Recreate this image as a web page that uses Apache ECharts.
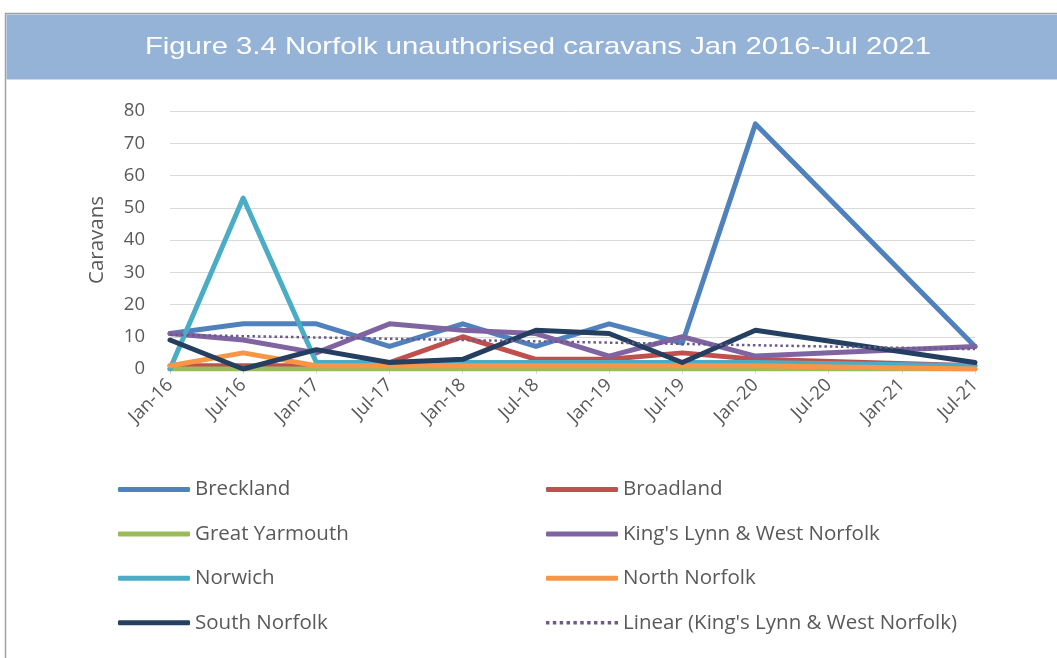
<!DOCTYPE html>
<html>
<head>
<meta charset="utf-8">
<script src="https://cdn.jsdelivr.net/npm/echarts@6/dist/echarts.min.js"></script>
<style>
html,body{margin:0;padding:0;background:#fff;}
#chart{width:1057px;height:658px;}
</style>
</head>
<body>
<div id="chart"></div>
<script>
var categories = ['Jan-16','Jul-16','Jan-17','Jul-17','Jan-18','Jul-18','Jan-19','Jul-19','Jan-20','Jul-20','Jan-21','Jul-21'];
var breckland     = [11, 14, 14, 7, 14, 7, 14, 8, 76, null, null, 7];
var broadland     = [1, 1, 1, 2, 10, 3, 3, 5, 3, null, null, 1];
var greatYarmouth = [0, 0, 0, 0, 0, 0, 0, 0, 0, null, null, 0];
var kingsLynn     = [11, 9, 5, 14, 12, 11, 4, 10, 4, null, null, 7];
var norwich       = [0, 53, 2, 2, 2, 2, 2, 2, 2, null, null, 1];
var northNorfolk  = [1, 5, 1, 1, 1, 1, 1, 1, 1, null, null, 0];
var southNorfolk  = [9, 0, 6, 2, 3, 12, 11, 2, 12, null, null, 2];
var yTicks = {min: 0, max: 80, interval: 10};
var titleText = 'Figure 3.4 Norfolk unauthorised caravans Jan 2016-Jul 2021';
var trendName = "Linear (King's Lynn & West Norfolk)";

// Linear trend (least squares) of King's Lynn & West Norfolk, blanks ignored
function linearTrend(vals) {
  var xs = [], ys = [];
  vals.forEach(function (v, i) { if (v !== null) { xs.push(i); ys.push(v); } });
  var n = xs.length, mx = 0, my = 0;
  for (var i = 0; i < n; i++) { mx += xs[i]; my += ys[i]; }
  mx /= n; my /= n;
  var sxy = 0, sxx = 0;
  for (i = 0; i < n; i++) { sxy += (xs[i] - mx) * (ys[i] - my); sxx += (xs[i] - mx) * (xs[i] - mx); }
  var b = sxy / sxx, a = my - b * mx;
  return vals.map(function (v, i) { return +(a + b * i).toFixed(3); });
}
var kingsLynnTrend = linearTrend(kingsLynn);

var textColor = '#595959';
var font = 'Open Sans';
var dotsIcon = 'path://M0,0h3v3h-3z M6,0h3v3h-3z M12,0h3v3h-3z M18,0h3v3h-3z M24,0h3v3h-3z M30,0h3v3h-3z M36,0h3v3h-3z M42,0h3v3h-3z M48,0h3v3h-3z M54,0h3v3h-3z M60,0h3v3h-3z';

function lineSeries(name, data, color) {
  return {
    name: name, type: 'line', data: data, color: color,
    symbol: 'none', connectNulls: true,
    lineStyle: {width: 5, color: color, join: 'round', cap: 'round'},
    emphasis: {disabled: true}
  };
}

var chart = echarts.init(document.getElementById('chart'));
var legendText = {fontFamily: font, fontSize: 20.5, color: textColor, lineHeight: 20};
chart.setOption({
  animation: false,
  backgroundColor: '#ffffff',
  graphic: [
    {type: 'rect', z: -10, shape: {x: 5.5, y: 13.5, width: 1100, height: 700}, style: {fill: '#ffffff', stroke: '#A0A0A0', lineWidth: 1.5}},
    {type: 'rect', z: -9, shape: {x: 6.5, y: 14.5, width: 1060, height: 65}, style: {fill: '#95B3D7'}},
    {type: 'text', x: 538, y: 47, scaleX: 1.22, style: {text: titleText, fill: '#ffffff', font: '24px "Liberation Sans", Arial, sans-serif', textAlign: 'center', textVerticalAlign: 'middle'}}
  ],
  grid: {left: 170, right: 82, top: 111, bottom: 289, containLabel: false},
  xAxis: {
    type: 'category', data: categories, boundaryGap: false,
    axisLine: {lineStyle: {color: '#D9D9D9', width: 1}},
    axisTick: {show: true, length: 5, lineStyle: {color: '#D9D9D9'}},
    axisLabel: {rotate: 45, interval: 0, margin: 13, color: textColor, fontFamily: font, fontSize: 18.5},
    splitLine: {show: false}
  },
  yAxis: {
    type: 'value', min: yTicks.min, max: yTicks.max, interval: yTicks.interval,
    name: 'Caravans', nameLocation: 'middle', nameGap: 62, nameRotate: 90,
    nameTextStyle: {color: textColor, fontFamily: font, fontSize: 20.5},
    axisLine: {show: false}, axisTick: {show: false},
    axisLabel: {color: textColor, fontFamily: font, fontSize: 18.5, margin: 25},
    splitLine: {lineStyle: {color: '#D9D9D9', width: 1}}
  },
  legend: [
    {left: 113, top: 474, orient: 'vertical', itemWidth: 72, itemHeight: 5, itemGap: 23.4, icon: 'roundRect',
     selectedMode: false, textStyle: legendText,
     data: ['Breckland', 'Great Yarmouth', 'Norwich', 'South Norfolk']},
    {left: 541, top: 474, orient: 'vertical', itemWidth: 72, itemHeight: 5, itemGap: 23.4, icon: 'roundRect',
     selectedMode: false, textStyle: legendText,
     data: ['Broadland', "King's Lynn & West Norfolk", 'North Norfolk', {name: trendName, icon: dotsIcon}]}
  ],
  series: [
    lineSeries('Breckland', breckland, '#4F81BD'),
    lineSeries('Broadland', broadland, '#C0504D'),
    lineSeries('Great Yarmouth', greatYarmouth, '#9BBB59'),
    lineSeries("King's Lynn & West Norfolk", kingsLynn, '#8064A2'),
    lineSeries('Norwich', norwich, '#4BACC6'),
    lineSeries('North Norfolk', northNorfolk, '#F79646'),
    lineSeries('South Norfolk', southNorfolk, '#243F60'),
    {name: trendName, type: 'line', data: kingsLynnTrend, color: '#6A5A8C', symbol: 'none',
     lineStyle: {width: 2.5, type: [2.5, 3], color: '#6A5A8C'}, emphasis: {disabled: true}, z: 3}
  ]
});
</script>
</body>
</html>
